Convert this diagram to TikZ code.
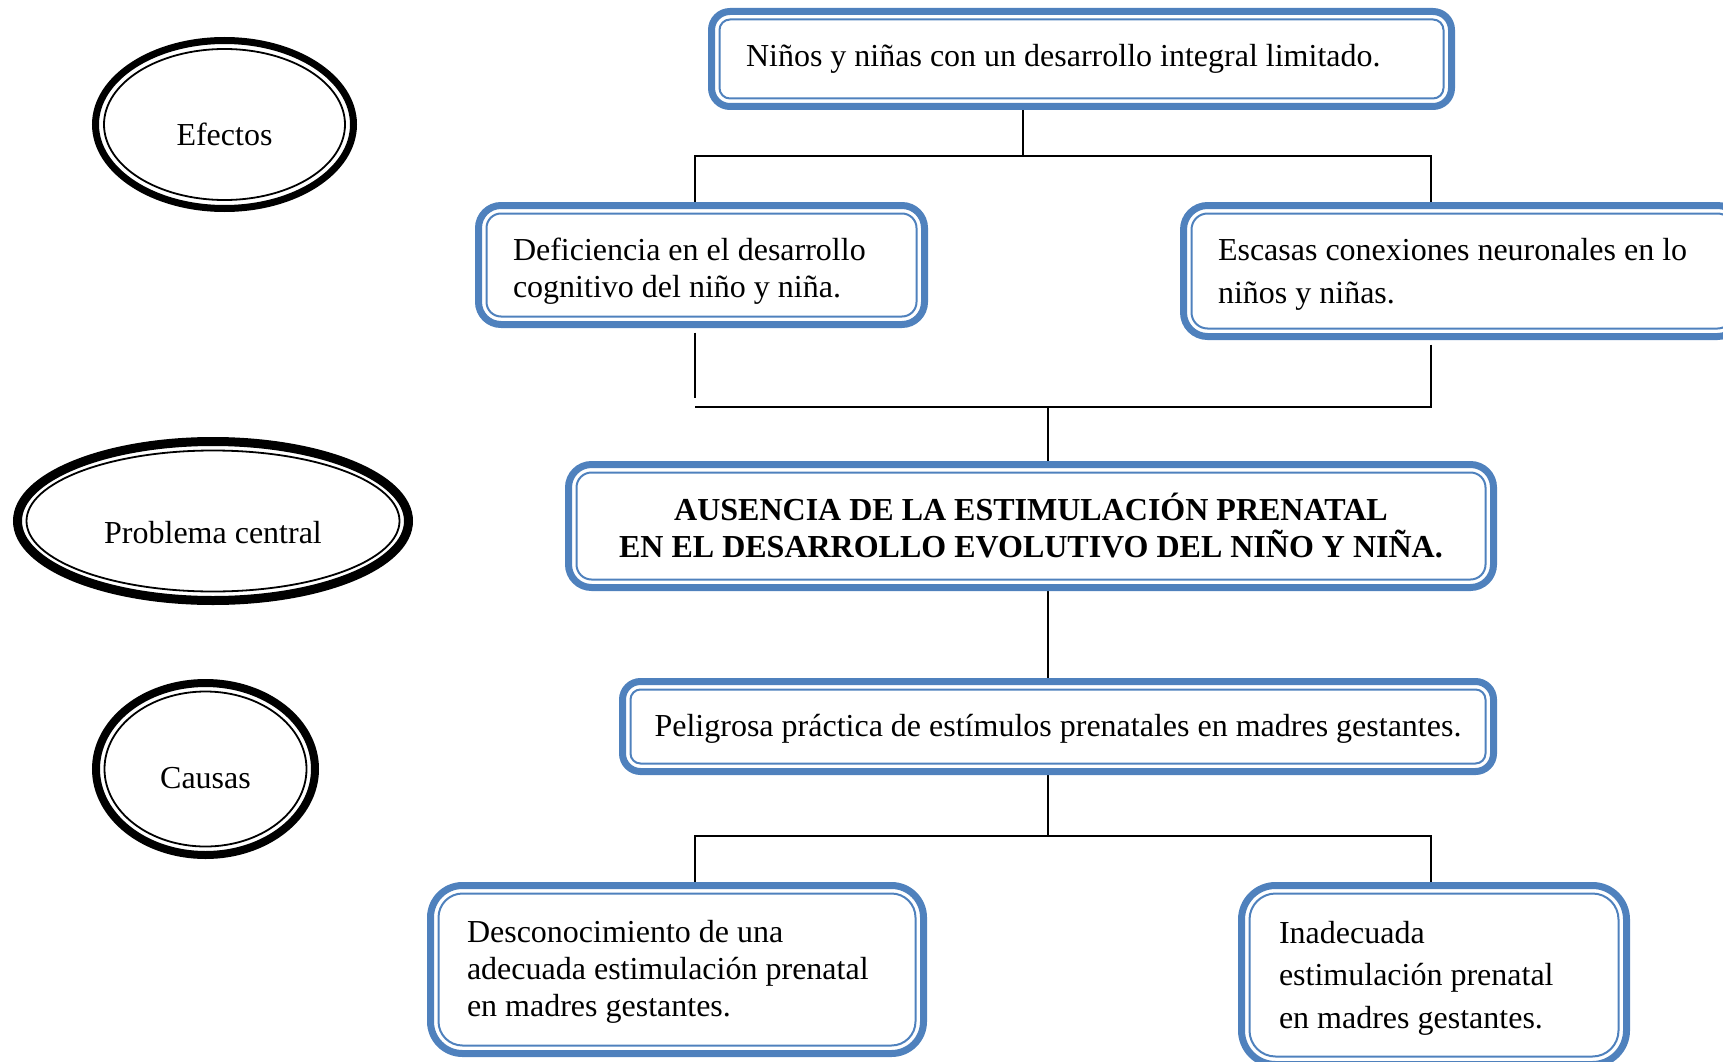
\documentclass[tikz,border=0pt]{standalone}
\usepackage{fontspec}
\setmainfont{Liberation Serif}
\usetikzlibrary{shapes.geometric,backgrounds,calc}
\definecolor{bblue}{HTML}{4F81BD}
\begin{document}
\begin{tikzpicture}[x=1pt,y=-1pt,
  box/.style={draw=bblue, line width=7pt, rectangle, inner sep=0pt, outer sep=0pt,
    font=\fontsize{32}{37}\selectfont},
  innerb/.style={draw=bblue, line width=2pt},
  conn/.style={draw=black, line width=1.8pt},
  oval/.style={ellipse, draw=black, inner sep=0pt, outer sep=0pt,
    font=\fontsize{32}{37}\selectfont, text depth=0pt},
  ovalin/.style={draw=black, line width=1.8pt}
]
\useasboundingbox (0,0) rectangle (1723,1062);

% ellipses
\node[oval, line width=7pt, minimum width=258pt, minimum height=168pt, text height=42pt] (ef) at (224.5,124.5) {Efectos};
\draw[ovalin] (ef.center) ellipse [x radius=120.5pt, y radius=75.5pt];
\node[oval, line width=9pt, minimum width=391pt, minimum height=159pt, text height=45pt] (pc) at (213,521) {Problema central};
\draw[ovalin] (pc.center) ellipse [x radius=186.5pt, y radius=70.5pt];
\node[oval, line width=8pt, minimum width=219pt, minimum height=172pt, text height=38pt] (ca) at (205.5,769) {Causas};
\draw[ovalin] (ca.center) ellipse [x radius=101pt, y radius=77.5pt];

% boxes
\node[box, rounded corners=18.5pt, minimum width=740pt, minimum height=95pt, text width=671pt, align=flush left]
  (b1) at (1081.5,59) {Niños y niñas con un desarrollo integral limitado.};
\node[box, rounded corners=22.5pt, minimum width=446pt, minimum height=119pt, text width=377pt, align=flush left,
  text depth=30.8pt]
  (b2) at (701.5,265) {Deficiencia en el desarrollo\\cognitivo del niño y niña.};
\node[box, rounded corners=24pt, minimum width=558pt, minimum height=131pt, text width=489pt, align=flush left,
  font=\fontsize{32}{43}\selectfont, text depth=43.4pt]
  (b3) at (1462.5,271) {Escasas conexiones neuronales en lo\\niños y niñas.};
\node[box, rounded corners=23pt, minimum width=925pt, minimum height=123pt, align=center,
  font=\fontsize{32}{37}\selectfont\bfseries]
  (b4) at (1031,526) {AUSENCIA DE LA ESTIMULACIÓN PRENATAL\\EN EL DESARROLLO EVOLUTIVO DEL NIÑO Y NIÑA.};
\node[box, rounded corners=18pt, minimum width=871pt, minimum height=90pt, align=center, text depth=2.6pt]
  (b5) at (1058,726.5) {Peligrosa práctica de estímulos prenatales en madres gestantes.};
\node[box, rounded corners=32pt, minimum width=493pt, minimum height=168pt, text width=420pt, align=flush left,
  text depth=76.6pt]
  (b6) at (677,969.5) {Desconocimiento de una\\adecuada estimulación prenatal\\en madres gestantes.};
\node[box, rounded corners=34pt, minimum width=385pt, minimum height=179pt, text width=310pt, align=flush left,
  font=\fontsize{32}{42.5}\selectfont, text depth=85.4pt]
  (b7) at (1434,975) {Inadecuada\\estimulación prenatal\\en madres gestantes.};

\foreach \n/\r in {b1/10.5,b2/14.5,b3/16,b4/15,b5/10,b6/24,b7/26}
  \draw[innerb, rounded corners=\r pt] ([xshift=8pt,yshift=-8pt]\n.north west) rectangle ([xshift=-8pt,yshift=8pt]\n.south east);

% junction coordinates
\coordinate (j1) at (1023,156);
\coordinate (hl) at (695,156);
\coordinate (hr) at (1431,156);
\coordinate (m1) at (695,398);
\coordinate (m2) at (695,407);
\coordinate (m3) at (1431,407);
\coordinate (mc) at (1048,407);
\coordinate (mc2) at (1048,836);
\coordinate (l3) at (695,836);
\coordinate (r3) at (1431,836);

\begin{pgfonlayer}{background}
\draw[conn] (b1.south -| j1) -- (j1);
\draw[conn] (hl |- b2.north) -- (hl) -- (hr) -- (hr |- b3.north);
\draw[conn] ([yshift=-8pt]b2.south -| m1) -- (m1);
\draw[conn] ([yshift=-8pt]b3.south -| m3) -- (m3) -- (m2);
\draw[conn] (mc) -- (b4.north -| mc);
\draw[conn] (b4.south -| mc) -- (b5.north -| mc);
\draw[conn] (b5.south -| mc) -- (mc2);
\draw[conn] (b6.north -| l3) -- (l3) -- (r3) -- (b7.north -| r3);
\end{pgfonlayer}
\end{tikzpicture}
\end{document}
